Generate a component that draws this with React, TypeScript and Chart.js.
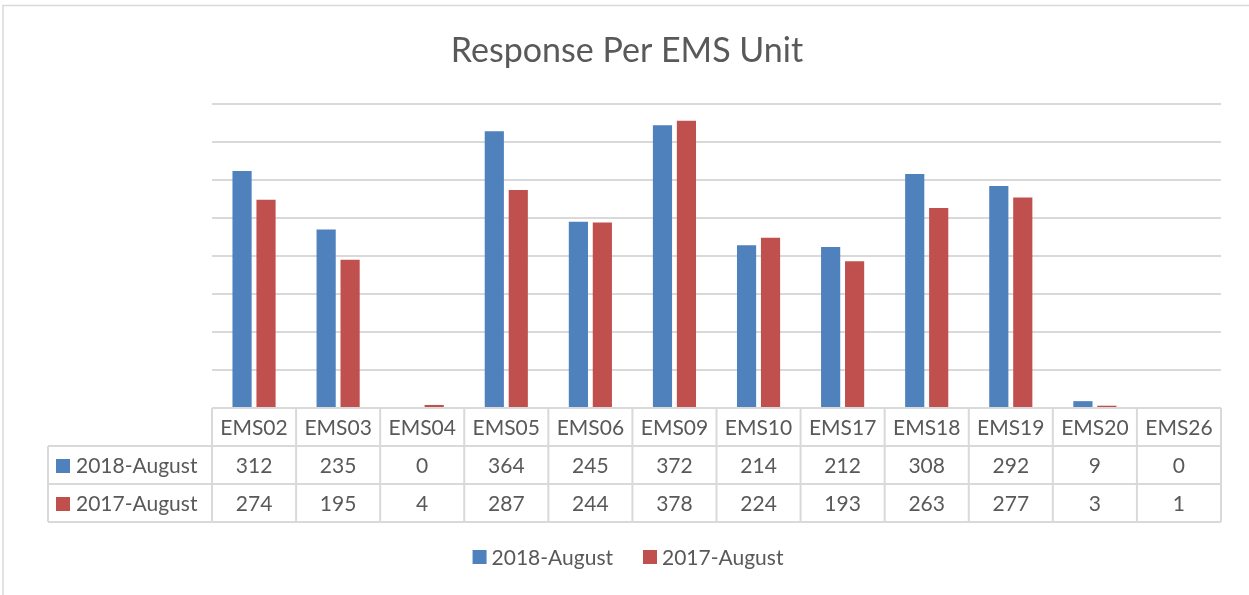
import React, { useEffect, useRef } from "react";
import { Chart, registerables } from "chart.js";

Chart.register(...registerables);

const titleText = "Response Per EMS Unit";
const categories = ["EMS02", "EMS03", "EMS04", "EMS05", "EMS06", "EMS09", "EMS10", "EMS17", "EMS18", "EMS19", "EMS20", "EMS26"];
const seriesLabels = ["2018-August", "2017-August"];
const values2018 = [312, 235, 0, 364, 245, 372, 214, 212, 308, 292, 9, 0];
const values2017 = [274, 195, 4, 287, 244, 378, 224, 193, 263, 277, 3, 1];
const seriesColors = ["#4F81BD", "#C0504D"];
const yMax = 400;
const yStep = 50;

const FONT = "Lato, 'Liberation Sans', sans-serif";
const TEXT = "#595959";
const LINE = "#D9D9D9";

const tablePlugin = {
  id: "dataTable",
  afterDraw(chart: any) {
    const ctx: CanvasRenderingContext2D = chart.ctx;
    const { left, right, bottom } = chart.chartArea;
    const xs = chart.scales.x;
    const n = categories.length;
    const colW = (right - left) / n;
    const rowH = 38;
    const legendColLeft = 48;
    const allSeries = [values2018, values2017];

    ctx.save();
    // outer border (cropped chart frame)
    ctx.strokeStyle = LINE;
    ctx.lineWidth = 1.5;
    ctx.beginPath();
    ctx.moveTo(3, chart.height);
    ctx.lineTo(3, 5.5);
    ctx.lineTo(chart.width, 5.5);
    ctx.stroke();

    // title
    ctx.fillStyle = TEXT;
    ctx.font = `34px ${FONT}`;
    ctx.textAlign = "center";
    ctx.textBaseline = "alphabetic";
    ctx.fillText(titleText, 627, 62);

    // table lines
    ctx.strokeStyle = LINE;
    ctx.lineWidth = 2;
    ctx.beginPath();
    ctx.moveTo(left, bottom);
    ctx.lineTo(right, bottom);
    for (let r = 1; r <= 3; r++) {
      ctx.moveTo(legendColLeft, bottom + r * rowH);
      ctx.lineTo(right, bottom + r * rowH);
    }
    for (let i = 0; i <= n; i++) {
      const x = left + i * colW;
      ctx.moveTo(x, bottom);
      ctx.lineTo(x, bottom + 3 * rowH);
    }
    ctx.moveTo(legendColLeft, bottom + rowH);
    ctx.lineTo(legendColLeft, bottom + 3 * rowH);
    ctx.stroke();

    // table text
    ctx.font = `21px ${FONT}`;
    ctx.fillStyle = TEXT;
    ctx.textAlign = "center";
    ctx.textBaseline = "middle";
    categories.forEach((c, i) => {
      ctx.fillText(c, xs.getPixelForValue(i), bottom + rowH / 2 + 1);
    });
    allSeries.forEach((vals, s) => {
      const cy = bottom + (s + 1) * rowH + rowH / 2 + 1;
      vals.forEach((v, i) => {
        ctx.fillText(String(v), xs.getPixelForValue(i), cy);
      });
      ctx.fillStyle = seriesColors[s];
      ctx.fillRect(56, cy - 7, 14, 14);
      ctx.fillStyle = TEXT;
      ctx.textAlign = "left";
      ctx.fillText(seriesLabels[s], 76, cy);
      ctx.textAlign = "center";
    });

    // legend
    const legY = 557;
    const sq = 14;
    const gap = 5;
    const spacing = 30;
    const widths = seriesLabels.map((l) => ctx.measureText(l).width);
    const total = widths.reduce((a, w) => a + sq + gap + w, 0) + spacing * (seriesLabels.length - 1);
    let x = 628 - total / 2;
    ctx.textAlign = "left";
    seriesLabels.forEach((l, s) => {
      ctx.fillStyle = seriesColors[s];
      ctx.fillRect(x, legY - sq / 2, sq, sq);
      ctx.fillStyle = TEXT;
      ctx.fillText(l, x + sq + gap, legY + 1);
      x += sq + gap + widths[s] + spacing;
    });
    ctx.restore();
  },
};

export default function App() {
  const ref = useRef<HTMLCanvasElement | null>(null);
  useEffect(() => {
    if (!ref.current) return;
    const chart = new Chart(ref.current, {
      type: "bar",
      data: {
        labels: categories,
        datasets: [
          { label: seriesLabels[0], data: values2018, backgroundColor: seriesColors[0], borderWidth: 0, categoryPercentage: 0.57, barPercentage: 0.8 },
          { label: seriesLabels[1], data: values2017, backgroundColor: seriesColors[1], borderWidth: 0, categoryPercentage: 0.57, barPercentage: 0.8 },
        ],
      },
      options: {
        responsive: false,
        animation: false,
        devicePixelRatio: 1,
        layout: { padding: { left: 212, right: 28, top: 104, bottom: 187 } },
        plugins: { legend: { display: false }, title: { display: false }, tooltip: { enabled: false } },
        scales: {
          x: { display: false },
          y: {
            min: 0,
            max: yMax,
            ticks: { display: false, stepSize: yStep },
            grid: { color: LINE, lineWidth: 2, drawTicks: false },
            border: { display: false },
          },
        },
      },
      plugins: [tablePlugin],
    });
    return () => chart.destroy();
  }, []);
  return (
    <div style={{ position: "absolute", left: 0, top: 0, width: 1249, height: 595, background: "#fff" }}>
      <canvas ref={ref} width={1249} height={595} style={{ display: "block" }} />
    </div>
  );
}
